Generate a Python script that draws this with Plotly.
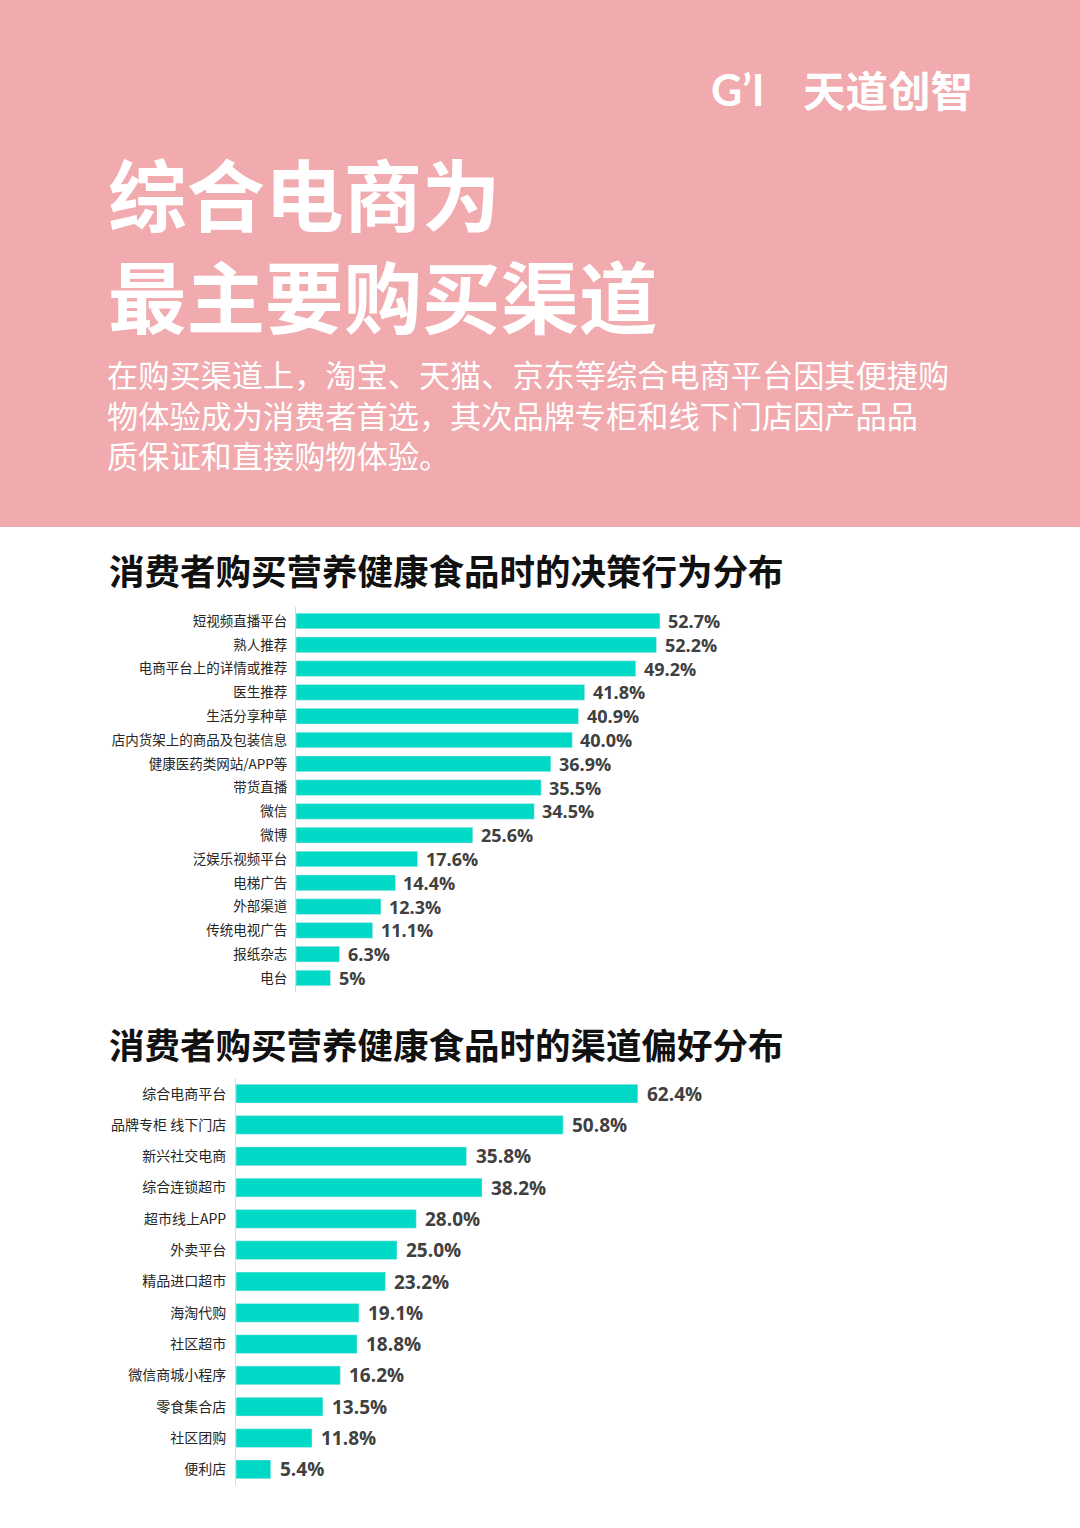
import plotly.graph_objects as go

W, H = 1080, 1528

# ---------------- data ----------------
cats1 = ["短视频直播平台", "熟人推荐", "电商平台上的详情或推荐", "医生推荐", "生活分享种草",
         "店内货架上的商品及包装信息", "健康医药类网站/APP等", "带货直播", "微信", "微博",
         "泛娱乐视频平台", "电梯广告", "外部渠道", "传统电视广告", "报纸杂志", "电台"]
vals1 = [52.7, 52.2, 49.2, 41.8, 40.9, 40.0, 36.9, 35.5, 34.5, 25.6, 17.6, 14.4, 12.3, 11.1, 6.3, 5]
labels1 = ["52.7%", "52.2%", "49.2%", "41.8%", "40.9%", "40.0%", "36.9%", "35.5%", "34.5%",
           "25.6%", "17.6%", "14.4%", "12.3%", "11.1%", "6.3%", "5%"]

cats2 = ["综合电商平台", "品牌专柜 线下门店", "新兴社交电商", "综合连锁超市", "超市线上APP",
         "外卖平台", "精品进口超市", "海淘代购", "社区超市", "微信商城小程序", "零食集合店",
         "社区团购", "便利店"]
vals2 = [62.4, 50.8, 35.8, 38.2, 28.0, 25.0, 23.2, 19.1, 18.8, 16.2, 13.5, 11.8, 5.4]
labels2 = ["62.4%", "50.8%", "35.8%", "38.2%", "28.0%", "25.0%", "23.2%", "19.1%", "18.8%",
           "16.2%", "13.5%", "11.8%", "5.4%"]

title1 = "消费者购买营养健康食品时的决策行为分布"
title2 = "消费者购买营养健康食品时的渠道偏好分布"
headline = ["综合电商为", "最主要购买渠道"]
para = ["在购买渠道上，淘宝、天猫、京东等综合电商平台因其便捷购",
        "物体验成为消费者首选，其次品牌专柜和线下门店因产品品",
        "质保证和直接购物体验。"]

# ---------------- style ----------------
PINK = "#F1AAAE"
BAR = "#00D9C5"
CJK = "Noto Sans CJK SC"
NUM = "Open Sans"


def px_x(x):
    return x / W


def px_y(y):
    return 1 - y / H


fig = go.Figure()

fig.add_trace(go.Bar(x=vals1, y=cats1, orientation="h", marker_color=BAR, width=0.66,
                     xaxis="x", yaxis="y", hoverinfo="skip"))
fig.add_trace(go.Bar(x=vals2, y=cats2, orientation="h", marker_color=BAR, width=0.6,
                     xaxis="x2", yaxis="y2", hoverinfo="skip"))

annotations = []
for v, c, t in zip(vals1, cats1, labels1):
    annotations.append(dict(x=v, y=c, xref="x", yref="y", text=t, showarrow=False,
                            xanchor="left", yanchor="middle", xshift=6,
                            font=dict(family=NUM, size=18, color="#404040", weight="bold")))
for v, c, t in zip(vals2, cats2, labels2):
    annotations.append(dict(x=v, y=c, xref="x2", yref="y2", text=t, showarrow=False,
                            xanchor="left", yanchor="middle", xshift=7,
                            font=dict(family=NUM, size=19, color="#404040", weight="bold")))

# header texts
annotations.append(dict(x=px_x(106), y=px_y(243), xref="paper", yref="paper",
                        text="<br>".join(headline), align="left",
                        showarrow=False, xanchor="left", yanchor="middle",
                        font=dict(family=CJK, size=78.5, color="white", weight="bold")))
annotations.append(dict(x=px_x(105), y=px_y(414), xref="paper", yref="paper",
                        text="<br>".join(para), align="left",
                        showarrow=False, xanchor="left", yanchor="middle",
                        font=dict(family=CJK, size=31.2, color="white", weight="normal")))
# logo
annotations.append(dict(x=px_x(709), y=px_y(89), xref="paper", yref="paper", text="G’I",
                        showarrow=False, xanchor="left", yanchor="middle",
                        font=dict(family="Lato", size=43, color="white", weight="bold")))
annotations.append(dict(x=px_x(801), y=px_y(88), xref="paper", yref="paper", text="天道创智",
                        showarrow=False, xanchor="left", yanchor="middle",
                        font=dict(family=CJK, size=42.5, color="white", weight="bold")))
# section titles
annotations.append(dict(x=px_x(107), y=px_y(569), xref="paper", yref="paper", text=title1,
                        showarrow=False, xanchor="left", yanchor="middle",
                        font=dict(family=CJK, size=35.5, color="#111111", weight="bold")))
annotations.append(dict(x=px_x(107), y=px_y(1043), xref="paper", yref="paper", text=title2,
                        showarrow=False, xanchor="left", yanchor="middle",
                        font=dict(family=CJK, size=35.5, color="#111111", weight="bold")))

shapes = [dict(type="rect", xref="paper", yref="paper", x0=0, x1=1, y0=px_y(527), y1=1,
               fillcolor=PINK, line_width=0, layer="below")]

# scales: chart1 6.907 px/unit from x=296, chart2 6.44 px/unit from x=236
x1_left = 296
x2_left = 236
fig.update_layout(
    width=W, height=H, margin=dict(l=0, r=0, t=0, b=0),
    paper_bgcolor="white", plot_bgcolor="rgba(0,0,0,0)", showlegend=False,
    bargap=0.3,
    xaxis=dict(domain=[px_x(x1_left), 1], range=[0, (W - x1_left) / 6.907],
               visible=False, fixedrange=True),
    yaxis=dict(domain=[px_y(992), px_y(607)], categoryorder="array", categoryarray=cats1,
               autorange="reversed", showline=True, linecolor="#D9D9D9", linewidth=1,
               showgrid=False, zeroline=False, ticks="", ticklabelstandoff=5,
               tickfont=dict(family=CJK, size=13.5, color="#262626"), anchor="x",
               fixedrange=True),
    xaxis2=dict(domain=[px_x(x2_left), 1], range=[0, (W - x2_left) / 6.44],
                visible=False, fixedrange=True, anchor="y2"),
    yaxis2=dict(domain=[px_y(1485), px_y(1078)], categoryorder="array", categoryarray=cats2,
                autorange="reversed", showline=True, linecolor="#D9D9D9", linewidth=1,
                showgrid=False, zeroline=False, ticks="", ticklabelstandoff=6,
                tickfont=dict(family=CJK, size=14, color="#262626"), anchor="x2",
                fixedrange=True),
    annotations=annotations,
    shapes=shapes,
)

fig.write_html("out.html", config={"displayModeBar": False},
               post_script="document.body.style.margin='0';document.body.style.padding='0';"
                           "document.documentElement.style.overflow='hidden';")
